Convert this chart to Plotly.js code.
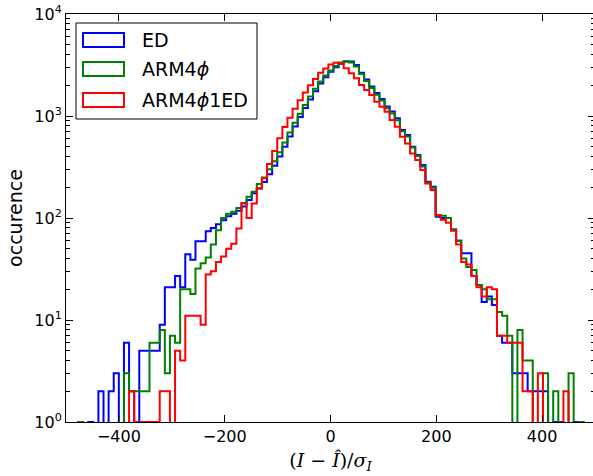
<!DOCTYPE html>
<html>
<head>
<meta charset="utf-8">
<script src="https://cdn.plot.ly/plotly-3.0.1.min.js"></script>
<style>
html,body{margin:0;padding:0;overflow:hidden;background:#fff;}
#chart{width:595px;height:476px;}
</style>
</head>
<body>
<div id="chart"></div>
<script>
// Histogram bins (shared by the three series)
const binStart = -477.4;
const binWidth = 9.66;

// Counts per bin
const countsED = [
  0,0,1,0,2,0,2,3,0,6,
  2,1,5,5,5,5,9,21,21,27,
  21,44,39,59,59,74,80,87,95,104,
  110,118,130,150,175,195,225,268,325,400,
  500,630,790,980,1200,1450,1750,2080,2400,2720,
  3000,3250,3420,3420,3170,2650,2280,1950,1680,1470,
  1240,1110,950,730,650,500,414,330,227,203,
  103,100,100,77,60,45,45,27,22,15,
  17,14,7,6,6,3,3,3,2,2,
  2,2,0,1,1,0,0,1,0
];
const countsARM4phi = [
  1,0,0,0,0,0,0,0,0,3,
  2,2,2,2,6,6,8,3,7,6,
  20,20,18,32,36,41,55,76,100,110,
  115,125,140,162,181,215,250,300,360,440,
  550,690,860,1050,1280,1550,1850,2180,2500,2800,
  3100,3350,3450,3350,3050,2580,2200,1880,1620,1420,
  1190,1060,910,710,630,490,405,320,222,198,
  105,105,100,77,60,40,33,31,22,20,
  16,16,12,11,7,0,8,4,4,0,
  0,3,0,2,0,0,3,0,1
];
const countsARM4phi1ED = [
  0,0,0,0,0,0,0,0,0,0,
  2,1,1,1,1,1,2,2,0,5,
  4,11,11,11,9,28,30,37,42,50,
  56,79,139,100,139,196,245,339,455,604,
  780,960,1180,1430,1700,2000,2300,2650,2930,3200,
  3330,3283,2933,2620,2340,2013,1798,1606,1382,1233,
  1103,914,786,627,539,429,370,296,218,188,
  107,96,90,75,55,37,35,27,21,17,
  21,20,7,7,6,6,6,2,2,0,
  3,0,0,0,0,2,0,0,0
];
const seriesNames = ['ED', 'ARM4<i>ϕ</i>', 'ARM4<i>ϕ</i>1ED'];
const seriesColors = ['#0000ff', '#008000', '#ff0000'];
const xTickVals = [-400, -200, 0, 200, 400];
const yTickVals = [1, 10, 100, 1000, 10000];
const yTickText = ['10<sup>0</sup>','10<sup>1</sup>','10<sup>2</sup>','10<sup>3</sup>','10<sup>4</sup>'];

const FLOOR = 1e-3; // empty bins drop below the visible range (log axis)

function stepTrace(counts, color) {
  const xs = [binStart], ys = [FLOOR];
  for (let i = 0; i < counts.length; i++) {
    xs.push(binStart + i * binWidth);
    ys.push(counts[i] > 0 ? counts[i] : FLOOR);
  }
  const end = binStart + counts.length * binWidth;
  xs.push(end); ys.push(FLOOR);
  return {
    type: 'scatter', mode: 'lines', x: xs, y: ys,
    line: {color: color, width: 2, shape: 'hv', simplify: false},
    showlegend: false, hoverinfo: 'skip'
  };
}

const data = [
  stepTrace(countsED, seriesColors[0]),
  stepTrace(countsARM4phi, seriesColors[1]),
  stepTrace(countsARM4phi1ED, seriesColors[2])
];

// plot area in pixels: x 66..595, y 14..422
const L = 66, W = 529, T = 14, H = 408;
const px = x => (x - L) / W;
const py = y => (T + H - y) / H;

const minorVals = [];
for (let e = 0; e < 4; e++) for (let d = 2; d <= 9; d++) minorVals.push(d * Math.pow(10, e));

const shapes = [{
  type: 'rect', xref: 'paper', yref: 'paper',
  x0: px(76), x1: px(257), y0: py(119), y1: py(23),
  line: {color: '#000', width: 1}, fillcolor: 'rgba(255,255,255,1)', layer: 'above'
}];
const annotations = [];
const rowY = [40, 69, 100];
for (let i = 0; i < 3; i++) {
  shapes.push({
    type: 'rect', xref: 'paper', yref: 'paper',
    x0: px(83), x1: px(124), y0: py(rowY[i] + 7), y1: py(rowY[i] - 7),
    line: {color: seriesColors[i], width: 2}, fillcolor: 'rgba(0,0,0,0)', layer: 'above'
  });
  annotations.push({
    xref: 'paper', yref: 'paper', x: px(140), y: py(rowY[i]),
    xanchor: 'left', yanchor: 'middle', showarrow: false,
    text: seriesNames[i], font: {family: 'DejaVu Sans', size: 19, color: '#000'}
  });
}

const layout = {
  width: 595, height: 476, autosize: false,
  margin: {l: L, r: 0, t: T, b: 476 - T - H, pad: 0},
  paper_bgcolor: '#fff', plot_bgcolor: '#fff',
  font: {family: 'DejaVu Sans', size: 16, color: '#000'},
  xaxis: {
    range: [-500, 500], tickvals: xTickVals, ticks: 'inside', ticklen: 7, tickwidth: 1,
    tickcolor: '#000', showline: true, linecolor: '#000', linewidth: 1, mirror: 'allticks',
    showgrid: false, zeroline: false, tickfont: {family: 'DejaVu Sans', size: 16},
    title: {text: '(<i>I</i> − <i>Î</i>)/<i>σ</i><sub><i>I</i></sub>',
            font: {family: 'DejaVu Serif', size: 19}, standoff: 8}
  },
  yaxis: {
    type: 'log', range: [0, 4], tickvals: yTickVals, ticktext: yTickText,
    ticks: 'inside', ticklen: 7, tickwidth: 1, tickcolor: '#000',
    showline: true, linecolor: '#000', linewidth: 1, mirror: 'allticks',
    showgrid: false, zeroline: false, tickfont: {family: 'DejaVu Sans', size: 16},
    minor: {tickvals: minorVals, ticks: 'inside', ticklen: 4, tickcolor: '#000', showgrid: false},
    title: {text: 'occurence', font: {family: 'DejaVu Sans', size: 19}, standoff: 6}
  },
  shapes: shapes,
  annotations: annotations
};

Plotly.newPlot('chart', data, layout, {staticPlot: true, displayModeBar: false});
</script>
</body>
</html>
